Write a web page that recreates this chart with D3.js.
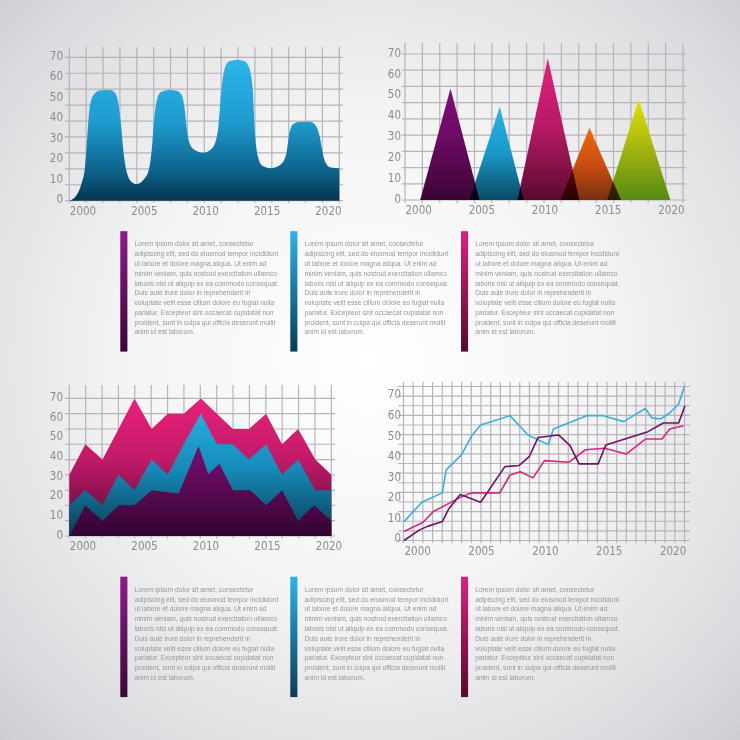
<!DOCTYPE html>
<html><head><meta charset="utf-8">
<script src="https://cdn.jsdelivr.net/npm/d3@7"></script>
<style>
html,body{margin:0;padding:0;background:#fff;}
svg{display:block;}
.axis text{font-family:"Liberation Sans Narrow","DejaVu Sans Condensed","Roboto Condensed",sans-serif;font-stretch:condensed;font-size:11.5px;fill:#8b8b90;}
.lorem{font-family:"Liberation Sans",Arial,sans-serif;font-size:6.7px;fill:#97979b;}
</style></head><body>
<svg id="c" width="740" height="740"></svg>
<script>
// ---------- shared ticks ----------
const yTicks = [0, 10, 20, 30, 40, 50, 60, 70];
const xTicks = [2000, 2005, 2010, 2015, 2020];

// ---------- chart 1: smooth blue wave ----------
const waveYears  = [2000, 2000.6, 2001.0, 2001.28, 2001.45, 2001.65, 2001.95, 2002.5, 2003.3, 2003.75, 2004.0, 2004.2, 2004.42, 2004.7, 2005.1, 2005.49, 2006.03, 2006.44, 2006.72, 2006.92, 2007.15, 2007.5, 2008.1, 2008.8, 2009.2, 2009.42, 2009.62, 2009.88, 2010.3, 2010.92, 2011.47, 2011.87, 2012.15, 2012.36, 2012.6, 2013.0, 2013.7, 2014.3, 2014.7, 2014.95, 2015.12, 2015.35, 2015.75, 2016.36, 2017.17, 2017.66, 2017.93, 2018.25, 2018.8, 2019.6, 2020.1, 2020.42, 2020.64, 2020.88, 2021.3, 2022];
const waveValues = [0, 2.8, 8.5, 16.6, 30, 45, 51.5, 53.8, 54, 52.5, 47.5, 38, 23.5, 13.5, 9, 8.1, 10.1, 14.2, 25, 40, 49.5, 53.2, 54, 53.6, 51, 44, 33, 27, 24.5, 23.4, 24.7, 28, 36.5, 52, 63, 68, 68.8, 68, 64, 54, 34, 22, 17, 15.8, 17.4, 22.3, 32.9, 37.5, 38.6, 38.5, 36.5, 31, 23.5, 18.5, 16.2, 15.8];

// ---------- chart 2: triangles ----------
const peakSeries = ["purple", "cyan", "magenta", "orange", "lime"];
const peakStart  = [2001.2, 2005.1, 2008.9, 2012.3, 2016.0];
const peakYear   = [2003.6, 2007.5, 2011.3, 2014.6, 2018.5];
const peakEnd    = [2005.9, 2009.4, 2013.8, 2017.1, 2021.0];
const peakValue  = [53.5, 44.7, 68.0, 34.7, 48.3];

// ---------- chart 3: layered areas ----------
const layerYears    = [2000, 2001.3, 2002.7, 2004.0, 2005.3, 2006.7, 2008.0, 2009.3, 2010.7, 2012.0, 2013.3, 2014.6, 2016.0, 2017.3, 2018.6, 2020.0, 2021.3];
const layerMagenta  = [31.1, 46.7, 38.9, 54.4, 70, 54.4, 62.2, 62.2, 70, 62.2, 54.4, 54.4, 62.2, 46.7, 54.4, 38.9, 31.1];
const layerCyan     = [15.6, 23.3, 15.6, 31.1, 23.3, 38.9, 31.1, 46.7, 62.2, 46.7, 46.7, 38.9, 46.7, 31.1, 38.9, 23.3, 23.3];
const purpleYears   = [2000, 2001.3, 2002.7, 2004.0, 2005.3, 2006.7, 2008.9, 2010.5, 2011.3, 2012.2, 2013.3, 2014.7, 2016.0, 2017.3, 2018.6, 2019.9, 2021.3];
const purpleValues  = [0, 15.6, 7.8, 15.6, 15.6, 23.3, 21.6, 45.8, 31.4, 36.7, 23.3, 23.3, 15.6, 23.3, 7.8, 15.6, 7.8];

// ---------- chart 4: lines ----------
const cyanYears    = [2000, 2001.4, 2003.0, 2003.3, 2004.5, 2005.3, 2006.0, 2008.3, 2009.7, 2011.3, 2011.7, 2014.3, 2015.6, 2017.2, 2018.9, 2019.4, 2020.1, 2020.8, 2021.5, 2021.95];
const cyanValues   = [9.2, 18.6, 23.2, 34.4, 41.7, 51.0, 56.2, 60.8, 51.4, 46.7, 54.3, 60.8, 60.8, 57.9, 64.3, 59.7, 59.2, 62.1, 66.5, 75.0];
const plumYears    = [2000, 2001.25, 2001.9, 2003.0, 2003.5, 2004.4, 2006.0, 2007.9, 2009.0, 2009.8, 2010.5, 2012.1, 2013.0, 2013.7, 2015.2, 2015.8, 2019.1, 2020.3, 2021.5, 2022];
const plumValues   = [0, 5.3, 7.0, 9.2, 15.4, 22.4, 18.6, 36.0, 36.5, 40.8, 50.2, 51.4, 46.2, 37.3, 37.3, 46.5, 53.0, 57.2, 57.2, 65.6];
const pinkYears    = [2000, 2001.5, 2002.3, 2004.4, 2005.3, 2007.5, 2008.3, 2009.1, 2010.1, 2011.0, 2012.9, 2014.2, 2015.7, 2017.4, 2018.9, 2020.2, 2020.8, 2021.9];
const pinkValues   = [4.4, 8.9, 14.1, 21.0, 23.2, 23.2, 31.9, 33.5, 30.5, 38.9, 38.1, 44.2, 44.9, 42.1, 49.4, 49.4, 54.3, 55.9];

// ---------- text ----------
const loremLines = [
  "Lorem ipsum dolor sit amet, consectetur",
  "adipiscing elit, sed do eiusmod tempor incididunt",
  "ut labore et dolore magna aliqua. Ut enim ad",
  "minim veniam, quis nostrud exercitation ullamco",
  "laboris nisi ut aliquip ex ea commodo consequat.",
  "Duis aute irure dolor in reprehenderit in",
  "voluptate velit esse cillum dolore eu fugiat nulla",
  "pariatur. Excepteur sint occaecat cupidatat non",
  "proident, sunt in culpa qui officia deserunt mollit",
  "anim id est laborum."
];

// ================= drawing =================
const svg = d3.select('#c');
const defs = svg.append('defs');

function linGrad(id, stops, userY) {
  const g = defs.append('linearGradient').attr('id', id)
    .attr('x1', 0).attr('y1', 0).attr('x2', 0).attr('y2', 1);
  if (userY) g.attr('gradientUnits', 'userSpaceOnUse').attr('y1', userY[0]).attr('y2', userY[1]);
  stops.forEach(([o, c]) => g.append('stop').attr('offset', o).attr('stop-color', c));
}

// background
const bg = defs.append('radialGradient').attr('id', 'bg')
  .attr('gradientUnits', 'userSpaceOnUse').attr('cx', 370).attr('cy', 360).attr('r', 560);
[[0, '#ffffff'], [0.45, '#f3f3f4'], [0.8, '#dcdce0'], [1, '#c8c8cd']]
  .forEach(([o, c]) => bg.append('stop').attr('offset', o).attr('stop-color', c));
svg.append('rect').attr('width', 740).attr('height', 740).attr('fill', 'url(#bg)');

function frame(c) {
  const x = d3.scaleLinear().domain(c.xDomain).range([c.left, c.right]);
  const y = d3.scaleLinear().domain(c.yDomain).range([c.bottom, c.top]);
  const gx = d3.scaleLinear().domain([0, c.cols]).range([c.gridLeft, c.gridRight]);
  const gy = d3.scaleLinear().domain([0, c.rows]).range([c.bottom, c.top]);
  const g = svg.append('g');
  const grid = g.append('g').attr('stroke', '#b4b4b9').attr('stroke-width', 1.2);
  grid.selectAll('line.v').data(d3.range(c.cols + 1)).join('line').attr('class', 'v')
    .attr('x1', d => gx(d)).attr('x2', d => gx(d)).attr('y1', c.vTop).attr('y2', c.vBottom);
  grid.selectAll('line.h').data(d3.range(c.rows + 1)).join('line').attr('class', 'h')
    .attr('y1', d => gy(d)).attr('y2', d => gy(d)).attr('x1', c.hLeft).attr('x2', c.hRight);
  const plot = g.append('g').style('isolation', 'isolate');
  const ya = g.append('g').attr('class', 'axis')
    .attr('transform', `translate(${c.labelRight},${c.labelDy})`)
    .call(d3.axisLeft(y).tickValues(yTicks).tickSize(0).tickPadding(0));
  ya.select('.domain').remove();
  const xa = g.append('g').attr('class', 'axis')
    .attr('transform', `translate(0,${c.bottom})`)
    .call(d3.axisBottom(x).tickValues(xTicks).tickSize(0).tickPadding(6).tickFormat(d3.format('d')));
  xa.select('.domain').remove();
  xa.selectAll('text').attr('text-anchor', 'start');
  return { x, y, plot };
}

// ---- chart 1 ----
{
  const c = { left: 69.3, right: 339.3, top: 57.3, bottom: 200.7, xDomain: [2000, 2022], yDomain: [0, 70],
    cols: 16, rows: 9, gridLeft: 69.3, gridRight: 339.3, vTop: 47, vBottom: 203, hLeft: 65, hRight: 343,
    labelRight: 63, labelDy: -1.5 };
  const f = frame(c);
  linGrad('g1', [[0, '#2db5ea'], [0.45, '#1e9ccf'], [0.8, '#0d6189'], [1, '#06344f']], [c.top, c.bottom]);
  const pts = waveYears.map((yr, i) => [yr, waveValues[i]]);
  f.plot.append('path').datum(pts)
    .attr('fill', 'url(#g1)')
    .attr('d', d3.area().curve(d3.curveMonotoneX).x(d => f.x(d[0])).y0(f.y(0)).y1(d => f.y(d[1])));
}

// ---- chart 2 ----
{
  const c = { left: 405, right: 683, top: 54, bottom: 200, xDomain: [2000, 2022], yDomain: [0, 70],
    cols: 16, rows: 9, gridLeft: 405, gridRight: 683, vTop: 43, vBottom: 203, hLeft: 402, hRight: 686,
    labelRight: 401, labelDy: -1.5 };
  const f = frame(c);
  const triColors = [
    ['#820d79', '#680a60', '#3a0533'],
    ['#2cb4e8', '#1898c9', '#0a4963'],
    ['#e4207d', '#b51963', '#5a0b31'],
    ['#ee6a0c', '#cc4e10', '#76300f'],
    ['#e6e200', '#a2b410', '#568a14']
  ];
  triColors.forEach((cc, i) => linGrad('t' + i, [[0, cc[0]], [0.5, cc[1]], [1, cc[2]]]));
  f.plot.selectAll('path').data(peakSeries).join('path')
    .attr('fill', (d, i) => `url(#t${i})`)
    .style('mix-blend-mode', 'multiply')
    .attr('d', (d, i) => d3.line()([
      [f.x(peakStart[i]), f.y(0)],
      [f.x(peakYear[i]), f.y(peakValue[i])],
      [f.x(peakEnd[i]), f.y(0)]
    ]) + 'Z');
}

// ---- chart 3 ----
{
  const c = { left: 69.3, right: 331.3, top: 398.4, bottom: 536, xDomain: [2000, 2021.3], yDomain: [0, 70],
    cols: 16, rows: 9, gridLeft: 69.3, gridRight: 331.3, vTop: 385, vBottom: 538.5, hLeft: 65, hRight: 335,
    labelRight: 63, labelDy: -1.5 };
  const f = frame(c);
  linGrad('a1', [[0, '#e9217a'], [0.45, '#c01a68'], [1, '#4d0a37']], [c.top, c.bottom]);
  linGrad('a2', [[0, '#2ab6ea'], [0.5, '#178cba'], [1, '#083c55']], [c.top, c.bottom]);
  linGrad('a3', [[0, '#8e0f88'], [0.5, '#6c0b65'], [1, '#330531']], [c.top, c.bottom]);
  const area = d3.area().x(d => f.x(d[0])).y0(f.y(0)).y1(d => f.y(d[1]));
  f.plot.append('path').attr('fill', 'url(#a1)').attr('d', area(layerYears.map((yr, i) => [yr, layerMagenta[i]])));
  f.plot.append('path').attr('fill', 'url(#a2)').attr('d', area(layerYears.map((yr, i) => [yr, layerCyan[i]])));
  f.plot.append('path').attr('fill', 'url(#a3)').attr('d', area(purpleYears.map((yr, i) => [yr, purpleValues[i]])));
}

// ---- chart 4 ----
{
  const c = { left: 404, right: 685, top: 386.5, bottom: 540.5, xDomain: [2000, 2022], yDomain: [0, 75],
    cols: 29, rows: 16, gridLeft: 403.5, gridRight: 684.5, vTop: 382, vBottom: 543, hLeft: 398, hRight: 690,
    labelRight: 401, labelDy: -2.5 };
  const f = frame(c);
  const line = d3.line().x(d => f.x(d[0])).y(d => f.y(d[1]));
  const series = [
    [cyanYears, cyanValues, '#3daedb'],
    [pinkYears, pinkValues, '#d3287c'],
    [plumYears, plumValues, '#6b1468']
  ];
  series.forEach(([ys, vs, col]) => {
    f.plot.append('path').attr('fill', 'none').attr('stroke', col).attr('stroke-width', 1.6)
      .attr('stroke-linejoin', 'round')
      .attr('d', line(ys.map((yr, i) => [yr, vs[i]])));
  });
}

// ---- text blocks ----
linGrad('b0', [[0, '#8e1a8d'], [1, '#3a0738']]);
linGrad('b1', [[0, '#2cb2e6'], [1, '#0a3d55']]);
linGrad('b2', [[0, '#df207b'], [1, '#520a30']]);
const blockCols = [120.3, 290.3, 461];
const blockRows = [231.2, 576.7];
blockRows.forEach(by => {
  blockCols.forEach((bx, i) => {
    const g = svg.append('g');
    g.append('rect').attr('x', bx).attr('y', by).attr('width', 7.1).attr('height', 120.4).attr('fill', `url(#b${i})`);
    g.selectAll('text').data(loremLines).join('text').attr('class', 'lorem')
      .attr('x', bx + 14.2).attr('y', (d, k) => by + 15.2 + k * 9.78).text(d => d);
  });
});
</script>
</body></html>
